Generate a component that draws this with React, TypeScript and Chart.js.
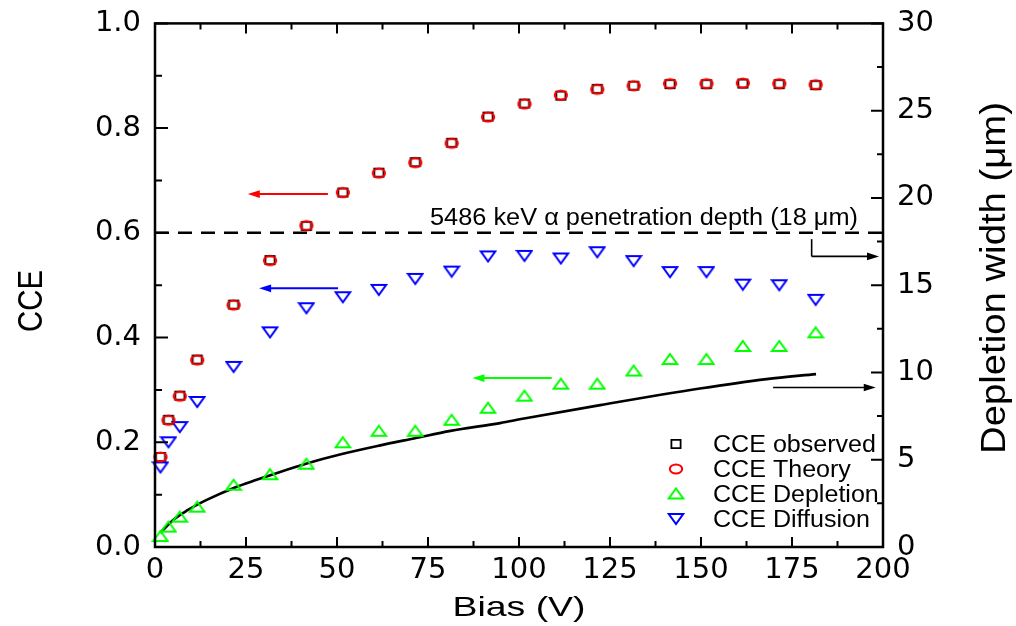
import React, { useEffect, useRef } from 'react';
import { Chart, registerables } from 'chart.js';

Chart.register(...registerables);

// ---------- data ----------
const biasV = [1.5, 3.7, 6.8, 11.6, 21.6, 31.6, 41.6, 51.6, 61.5, 71.5, 81.5, 91.5, 101.5, 111.5, 121.5, 131.5, 141.5, 151.5, 161.5, 171.5, 181.5];
const cceObserved = [0.172, 0.243, 0.289, 0.358, 0.463, 0.548, 0.613, 0.677, 0.715, 0.735, 0.772, 0.822, 0.847, 0.862, 0.875, 0.881, 0.884, 0.884, 0.885, 0.884, 0.882];
const cceTheory = [0.172, 0.242, 0.288, 0.357, 0.462, 0.547, 0.614, 0.677, 0.714, 0.734, 0.771, 0.821, 0.846, 0.863, 0.874, 0.881, 0.885, 0.885, 0.886, 0.885, 0.883];
const cceDepletion = [0.021, 0.039, 0.058, 0.077, 0.119, 0.139, 0.159, 0.2, 0.222, 0.222, 0.243, 0.266, 0.289, 0.312, 0.312, 0.337, 0.359, 0.359, 0.384, 0.384, 0.41];
const cceDiffusion = [0.152, 0.2, 0.229, 0.277, 0.344, 0.41, 0.456, 0.477, 0.491, 0.512, 0.526, 0.555, 0.556, 0.551, 0.563, 0.546, 0.525, 0.525, 0.501, 0.5, 0.472];

const widthBias = [1.5, 5.0, 8.7, 14.2, 21.8, 27.9, 31.9, 41.9, 50.8, 61.6, 71.4, 81.2, 94.8, 101.4, 122.3, 149.7, 168.0, 181.6];
const depletionWidth = [0.82, 1.55, 2.08, 2.7, 3.4, 3.85, 4.13, 4.8, 5.3, 5.81, 6.23, 6.65, 7.1, 7.36, 8.13, 9.08, 9.62, 9.91];

const penetrationCCE = 0.6;
const penetrationLabel = '5486 keV \u03b1 penetration depth (18 \u03bcm)';

const xRange = [0, 200];
const cceRange = [0, 1];
const widthRange = [0, 30];

const legendLabels = ['CCE observed', 'CCE Theory', 'CCE Depletion', 'CCE Diffusion'];

// arrows: start, tip, level, axis, colour
const arrowStarts = [47.5, 50.3, 109.0, 169.8];
const arrowTips = [25.5, 28.6, 87.2, 198.0];
const arrowLevels = [0.674, 0.494, 0.3226, 9.14];
const arrowAxes = ['y', 'y', 'y', 'y2'];
const arrowColors = ['#ff0000', '#0000ff', '#00ff00', '#000000'];
// bent arrow from the penetration line to the right axis
const bentArrowX = 180.4;
const bentArrowTop = 0.588;
const bentArrowBottom = 0.555;
const bentArrowTip = 198.9;

const FONT = '"Liberation Sans", Arial, sans-serif';

function makeMarker(kind: string, color: string): HTMLCanvasElement {
  const c = document.createElement('canvas');
  const w = 18, h = 14;
  c.width = w; c.height = h;
  const g = c.getContext('2d')!;
  g.strokeStyle = color;
  g.lineWidth = 2;
  g.lineJoin = 'miter';
  const cx = w / 2, cy = h / 2;
  g.beginPath();
  if (kind === 'square') {
    g.lineWidth = 1.8;
    g.rect(cx - 4.6, cy - 4.1, 9.2, 8.2);
  } else if (kind === 'circle') {
    g.ellipse(cx, cy, 6.2, 4.6, 0, 0, Math.PI * 2);
  } else if (kind === 'up') {
    g.moveTo(cx, cy - 5);
    g.lineTo(cx + 7.2, cy + 5);
    g.lineTo(cx - 7.2, cy + 5);
    g.closePath();
  } else {
    g.moveTo(cx - 7.2, cy - 5);
    g.lineTo(cx + 7.2, cy - 5);
    g.lineTo(cx, cy + 5);
    g.closePath();
  }
  g.stroke();
  return c;
}

function drawText(
  ctx: CanvasRenderingContext2D,
  text: string,
  x: number,
  y: number,
  size: number,
  o: { width?: number; sx?: number; sy?: number; align?: CanvasTextAlign; baseline?: CanvasTextBaseline; rot?: number } = {}
) {
  ctx.save();
  ctx.translate(x, y);
  if (o.rot) ctx.rotate(o.rot);
  ctx.font = `${size}px ${FONT}`;
  const m = ctx.measureText(text).width;
  const sx = o.width ? o.width / m : o.sx || 1;
  ctx.scale(sx, o.sy || 1);
  ctx.textAlign = o.align || 'left';
  ctx.textBaseline = o.baseline || 'alphabetic';
  ctx.fillStyle = '#000';
  ctx.fillText(text, 0, 0);
  ctx.restore();
  return sx;
}

function arrow(ctx: CanvasRenderingContext2D, x1: number, y1: number, x2: number, y2: number, color: string, lw: number) {
  const dir = Math.sign(x2 - x1);
  const head = 12;
  const half = 3.8;
  ctx.save();
  ctx.strokeStyle = color;
  ctx.fillStyle = color;
  ctx.lineWidth = lw;
  ctx.beginPath();
  ctx.moveTo(x1, y1);
  ctx.lineTo(x2 - dir * head * 0.7, y2);
  ctx.stroke();
  ctx.beginPath();
  ctx.moveTo(x2, y2);
  ctx.lineTo(x2 - dir * head, y2 - half);
  ctx.lineTo(x2 - dir * head, y2 + half);
  ctx.closePath();
  ctx.fill();
  ctx.restore();
}

export default function App() {
  const ref = useRef<HTMLCanvasElement>(null);

  useEffect(() => {
    document.body.style.margin = '0';
    const canvas = ref.current!;
    const mSquare = makeMarker('square', '#000000');
    const mCircle = makeMarker('circle', '#ff0000');
    const mUp = makeMarker('up', '#00ff00');
    const mDown = makeMarker('down', '#0000ff');
    const legendMarkers = [mSquare, mCircle, mUp, mDown];

    const pts = (ys: number[]) => biasV.map((x, i) => ({ x, y: ys[i] }));

    const overlay = {
      id: 'overlay',
      afterDraw(chart: any) {
        const ctx: CanvasRenderingContext2D = chart.ctx;
        const a = chart.chartArea;
        const xs = chart.scales.x;
        const ys = chart.scales.y;
        const y2 = chart.scales.y2;
        ctx.save();
        // frame
        ctx.strokeStyle = '#000';
        ctx.lineWidth = 2.5;
        ctx.strokeRect(a.left, a.top, a.right - a.left, a.bottom - a.top);
        ctx.lineWidth = 2;
        ctx.beginPath();
        for (let i = 0; i <= 16; i++) {
          const px = xs.getPixelForValue(i * 12.5);
          const len = i % 2 === 0 ? 10 : 6;
          ctx.moveTo(px, a.bottom);
          ctx.lineTo(px, a.bottom - len);
          ctx.moveTo(px, a.top);
          ctx.lineTo(px, a.top + len);
        }
        for (let i = 0; i <= 10; i++) {
          const py = ys.getPixelForValue(i * 0.1);
          const len = i % 2 === 0 ? 13 : 7;
          ctx.moveTo(a.left, py);
          ctx.lineTo(a.left + len, py);
        }
        for (let i = 0; i <= 12; i++) {
          const py = y2.getPixelForValue(i * 2.5);
          const len = i % 2 === 0 ? 12 : 6;
          ctx.moveTo(a.right, py);
          ctx.lineTo(a.right - len, py);
        }
        ctx.stroke();

        // arrows
        for (let i = 0; i < arrowStarts.length; i++) {
          const sc = arrowAxes[i] === 'y' ? ys : y2;
          const py = sc.getPixelForValue(arrowLevels[i]);
          arrow(ctx, xs.getPixelForValue(arrowStarts[i]), py, xs.getPixelForValue(arrowTips[i]), py, arrowColors[i], i === 3 ? 1.6 : 2);
        }
        const bx = xs.getPixelForValue(bentArrowX);
        const bTop = ys.getPixelForValue(bentArrowTop);
        const bBot = ys.getPixelForValue(bentArrowBottom);
        ctx.strokeStyle = '#000';
        ctx.lineWidth = 1.6;
        ctx.beginPath();
        ctx.moveTo(bx, bTop);
        ctx.lineTo(bx, bBot);
        ctx.stroke();
        arrow(ctx, bx, bBot, xs.getPixelForValue(bentArrowTip), bBot, '#000', 1.6);

        // annotation
        drawText(ctx, penetrationLabel, 430, ys.getPixelForValue(penetrationCCE) - 8, 23, { width: 428 });

        // legend
        const lx = a.left + 521;
        const rowY = [444, 469, 493.5, 519];
        ctx.font = `23px ${FONT}`;
        const lsx = 163 / ctx.measureText(legendLabels[0]).width;
        legendLabels.forEach((lab, i) => {
          const m = legendMarkers[i];
          ctx.drawImage(m, lx - m.width / 2, rowY[i] - m.height / 2);
          drawText(ctx, lab, lx + 37, rowY[i] + 8.3, 23, { sx: lsx });
        });

        // axis titles
        drawText(ctx, 'Bias (V)', (a.left + a.right) / 2, 616, 28, { width: 133, align: 'center' });
        drawText(ctx, 'CCE', 42, 301, 29, { width: 62, sy: 1.23, align: 'center', rot: -Math.PI / 2 });
        drawText(ctx, 'Depletion width (\u03bcm)', 1005, 278, 29, { width: 352, sy: 1.2, align: 'center', rot: -Math.PI / 2 });
        ctx.restore();
      },
    };

    const tickFont = { family: '"DejaVu Sans", sans-serif', size: 29 };

    const chart = new Chart(canvas, {
      type: 'scatter',
      data: {
        datasets: [
          { label: 'CCE Theory', data: pts(cceTheory), pointStyle: mCircle as any, pointRadius: 6, yAxisID: 'y', clip: false as any },
          { label: 'CCE observed', data: pts(cceObserved), pointStyle: mSquare as any, pointRadius: 6, yAxisID: 'y', clip: false as any },
          { label: 'CCE Depletion', data: pts(cceDepletion), pointStyle: mUp as any, pointRadius: 6, yAxisID: 'y', clip: false as any },
          { label: 'CCE Diffusion', data: pts(cceDiffusion), pointStyle: mDown as any, pointRadius: 6, yAxisID: 'y', clip: false as any },
          {
            label: 'Depletion width',
            data: widthBias.map((x, i) => ({ x, y: depletionWidth[i] })),
            showLine: true,
            borderColor: '#000',
            borderWidth: 2.7,
            pointRadius: 0,
            cubicInterpolationMode: 'monotone',
            yAxisID: 'y2',
          },
          {
            label: 'Penetration depth',
            data: xRange.map((x) => ({ x, y: penetrationCCE })),
            showLine: true,
            borderColor: '#000',
            borderWidth: 2.5,
            borderDash: [14, 9],
            pointRadius: 0,
            yAxisID: 'y',
          },
        ],
      } as any,
      options: {
        responsive: false,
        animation: false,
        events: [],
        devicePixelRatio: 1,
        layout: { padding: { top: 18, left: 0, right: 0, bottom: 0 } },
        plugins: { legend: { display: false }, tooltip: { enabled: false }, title: { display: false } },
        scales: {
          x: {
            type: 'linear',
            position: 'bottom',
            min: xRange[0],
            max: xRange[1],
            grid: { display: false },
            border: { display: false },
            ticks: { stepSize: 25, color: '#000', font: tickFont, padding: -2, maxRotation: 0, autoSkip: false },
            afterFit: (s: any) => { s.height = 79; },
          },
          y: {
            type: 'linear',
            position: 'left',
            min: cceRange[0],
            max: cceRange[1],
            grid: { display: false },
            border: { display: false },
            ticks: { stepSize: 0.2, color: '#000', font: tickFont, padding: 6, callback: (v: any) => Number(v).toFixed(1) },
            afterFit: (s: any) => { s.width = 155; },
          },
          y2: {
            type: 'linear',
            position: 'right',
            min: widthRange[0],
            max: widthRange[1],
            grid: { display: false },
            border: { display: false },
            ticks: { stepSize: 5, color: '#000', font: tickFont, padding: 6 },
            afterFit: (s: any) => { s.width = 133; },
          },
        },
      } as any,
      plugins: [overlay],
    });
    return () => chart.destroy();
  }, []);

  return <canvas ref={ref} width={1016} height={626} style={{ display: 'block', width: '1016px', height: '626px' }} />;
}
